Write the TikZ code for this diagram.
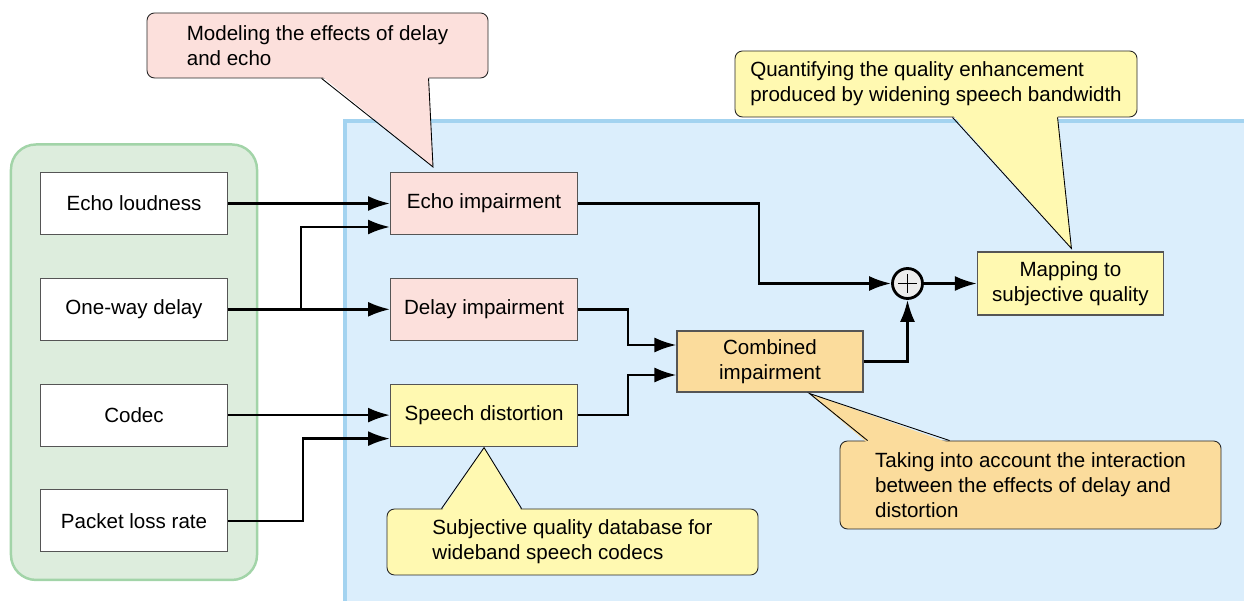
\documentclass[tikz,border=0pt]{standalone}
\usepackage{fontspec}
\setmainfont{Liberation Sans}
\usepackage{tikz}
\usetikzlibrary{arrows.meta, positioning, fit, calc, backgrounds}

\definecolor{pinkfill}{HTML}{FCE0DC}
\definecolor{yellowfill}{HTML}{FFF9B1}
\definecolor{orangefill}{HTML}{FBDC9C}
\definecolor{bluefill}{HTML}{DBEEFC}
\definecolor{blueline}{HTML}{A3D3F0}
\definecolor{greenfill}{HTML}{DDEDDD}
\definecolor{greenline}{HTML}{A2D4A8}
\definecolor{boxline}{HTML}{555555}

\begin{document}
\begin{tikzpicture}[
    node distance=0.855cm and 3.24cm,
    every node/.append style={font=\fontsize{11.7}{14.2}\selectfont},
    box/.style={rectangle, draw=boxline, line width=0.6pt, fill=white, minimum width=3.74cm, minimum height=1.24cm, align=center, inner sep=2pt},
    note/.style={rectangle, draw=black!85, line width=0.5pt, rounded corners=0.15cm, align=left, inner sep=2pt},
    arrow/.style={-{Latex[length=0.44cm,width=0.3cm]}, line width=1.5pt}
]
\useasboundingbox (0,0) rectangle (24.88,-12.02);

% Nodes
\node[box] (echo) at (2.68,-4.07) {Echo loudness};
\node[box, below=of echo] (delay) {One-way delay};
\node[box, below=of delay] (codec) {Codec};
\node[box, below=of codec] (packet) {Packet loss rate};

\node[box, fill=pinkfill, right=of echo] (echoimp) {Echo impairment};
\node[box, fill=pinkfill, right=of delay] (delayimp) {Delay impairment};
\node[box, fill=yellowfill, right=of codec] (speech) {Speech distortion};

\node[box, fill=orangefill, minimum width=3.72cm, minimum height=1.22cm] (combined) at (15.4,-7.23) {Combined\\impairment};
\node[circle, draw=black, line width=1.6pt, fill=black!7, minimum size=0.6cm, inner sep=0pt] (sum) at (18.15,-5.67) {};
\draw[line width=1pt] ($(sum)+(-0.19,0)$) -- ($(sum)+(0.19,0)$) ($(sum)+(0,-0.19)$) -- ($(sum)+(0,0.19)$);
\node[box, fill=yellowfill, minimum width=3.72cm, minimum height=1.26cm, right=1.06cm of sum] (mapping) {Mapping to\\subjective quality};

% Panels
\begin{scope}[on background layer]
\node[draw=greenline, fill=greenfill, line width=1.4pt, rounded corners=0.5cm, inner xsep=0.58cm, inner ysep=0.55cm, fit=(echo)(packet)] (inputs) {};
\fill[bluefill] (6.9,-2.42) rectangle (24.88,-12.02);
\draw[blueline, line width=2pt] (6.9,-12.02) |- (24.88,-2.42);
\end{scope}

% Arrows
\draw[arrow] (echo) -- (echoimp);
\draw[arrow] (delay) -- (delayimp);
\coordinate (split) at ($(delay.east)+(1.46,0)$);
\draw[arrow] (split) |- ($(echoimp.west)+(0,-0.47)$);
\draw[arrow] (codec) -- (speech);
\draw[arrow] (packet.east) -- ++(1.5,0) |- ($(speech.west)+(0,-0.47)$);
\draw[arrow] (delayimp.east) -- ++(1.0,0) |- ($(combined.west)+(0,0.33)$);
\draw[arrow] (speech.east) -- ++(1.0,0) |- ($(combined.west)+(0,-0.27)$);
\draw[arrow] (echoimp.east) -- ++(3.62,0) |- (sum.west);
\draw[arrow] (combined.east) -| (sum.south);
\draw[arrow] (sum) -- (mapping);

% Callouts
\node[note, fill=pinkfill, minimum width=6.82cm, minimum height=1.3cm] (echonote) at (6.35,-0.91) {Modeling the effects of delay\\and echo};
\coordinate (echotip) at ($(echoimp.north west)+(0.86,0.1)$);
\fill[pinkfill] ($(echonote.south west)+(3.5,0.05)$) -- (echotip) -- ($(echonote.south west)+(5.64,0.05)$) -- cycle;
\draw[line width=0.5pt] ($(echonote.south west)+(3.5,0)$) -- (echotip) -- ($(echonote.south west)+(5.64,0)$);

\node[note, fill=yellowfill, minimum width=8.04cm, minimum height=1.32cm] (bandnote) at (18.72,-1.68) {Quantifying the quality enhancement\\produced by widening speech bandwidth};
\coordinate (bandtip) at ($(mapping.north)+(0.02,0.06)$);
\fill[yellowfill] ($(bandnote.south west)+(4.36,0.05)$) -- (bandtip) -- ($(bandnote.south west)+(6.46,0.05)$) -- cycle;
\draw[line width=0.5pt] ($(bandnote.south west)+(4.36,0)$) -- (bandtip) -- ($(bandnote.south west)+(6.46,0)$);

\node[note, fill=yellowfill, minimum width=7.42cm, minimum height=1.32cm] (dbnote) at (11.45,-10.84) {Subjective quality database for\\wideband speech codecs};
\coordinate (dbtip) at ($(speech.south)+(0,-0.02)$);
\fill[yellowfill] ($(dbnote.north west)+(1.1,-0.05)$) -- (dbtip) -- ($(dbnote.north west)+(2.7,-0.05)$) -- cycle;
\draw[line width=0.5pt] ($(dbnote.north west)+(1.1,0)$) -- (dbtip) -- ($(dbnote.north west)+(2.7,0)$);

\node[note, fill=orangefill, minimum width=7.62cm, minimum height=1.76cm] (mixnote) at (20.61,-9.7) {Taking into account the interaction\\between the effects of delay and\\distortion};
\coordinate (mixtip) at ($(combined.south east)+(-1.08,-0.02)$);
\fill[orangefill] ($(mixnote.north west)+(0.56,-0.05)$) -- (mixtip) -- ($(mixnote.north west)+(2.2,-0.05)$) -- cycle;
\draw[line width=0.5pt] ($(mixnote.north west)+(0.56,0)$) -- (mixtip) -- ($(mixnote.north west)+(2.2,0)$);

\end{tikzpicture}
\end{document}
